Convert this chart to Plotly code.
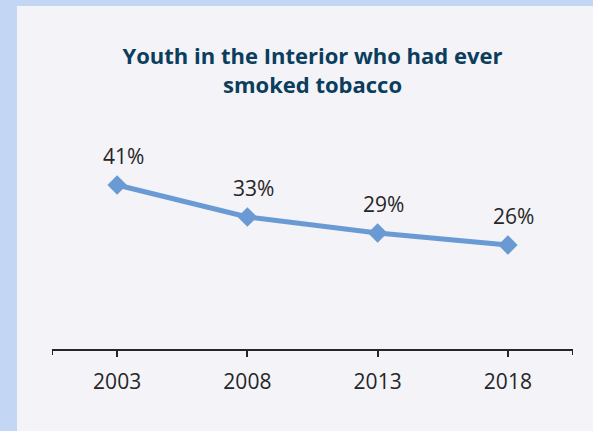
import plotly.graph_objects as go

years = ["2003", "2008", "2013", "2018"]
values = [41, 33, 29, 26]
labels = ["41%", "33%", "29%", "26%"]
title_text = "Youth in the Interior who had ever<br>smoked tobacco"

W, H = 593, 431
ml, mr, mt, mb = 52, 20, 149, 82
pw = W - ml - mr
ph = H - mt - mb

line_color = "#6a9ad3"
panel = "#f3f3f8"
border = "#c3d7f5"
axis_col = "#262626"

fig = go.Figure()
fig.add_trace(go.Scatter(
    x=years, y=values, mode="lines+markers",
    line=dict(color=line_color, width=5),
    marker=dict(symbol="diamond", size=15, color=line_color),
    hoverinfo="skip", showlegend=False,
))

for i, (v, t) in enumerate(zip(values, labels)):
    fig.add_annotation(x=i, y=v, text=t, showarrow=False, xref="x", yref="y",
                       xshift=6, yshift=29, font=dict(family="Open Sans", size=21, color="#262626"))

# panel background with blue border strips
fig.add_shape(type="rect", xref="paper", yref="paper", layer="below",
              x0=(17 - ml) / pw, x1=(W - ml) / pw + 0.05,
              y0=-(mb + 5) / ph, y1=(ph + mt - 6) / ph,
              fillcolor=panel, line=dict(width=0))

# end ticks of the category axis
for xe in (-0.5, 3.5):
    fig.add_shape(type="line", xref="x", yref="paper", x0=xe, x1=xe,
                  y0=0, y1=-6 / ph, line=dict(color=axis_col, width=2))

fig.update_layout(
    width=W, height=H,
    margin=dict(l=ml, r=mr, t=mt, b=mb),
    paper_bgcolor=border, plot_bgcolor=panel,
    title=dict(text=title_text, x=0.5, xref="paper", xanchor="center",
               y=1 - 64 / H, yref="container", yanchor="middle",
               font=dict(family="Open Sans", size=22, color="#0b3d5c", weight="bold")),
    xaxis=dict(type="category", range=[-0.5, 3.5], showline=True, linecolor=axis_col, linewidth=2,
               ticks="outside", ticklen=6, tickwidth=2, tickcolor=axis_col,
               showgrid=False, zeroline=False, ticklabelstandoff=7,
               tickfont=dict(family="Open Sans", size=21, color="#262626")),
    yaxis=dict(visible=False, range=[0, 50]),
)

fig.write_html("out.html")
